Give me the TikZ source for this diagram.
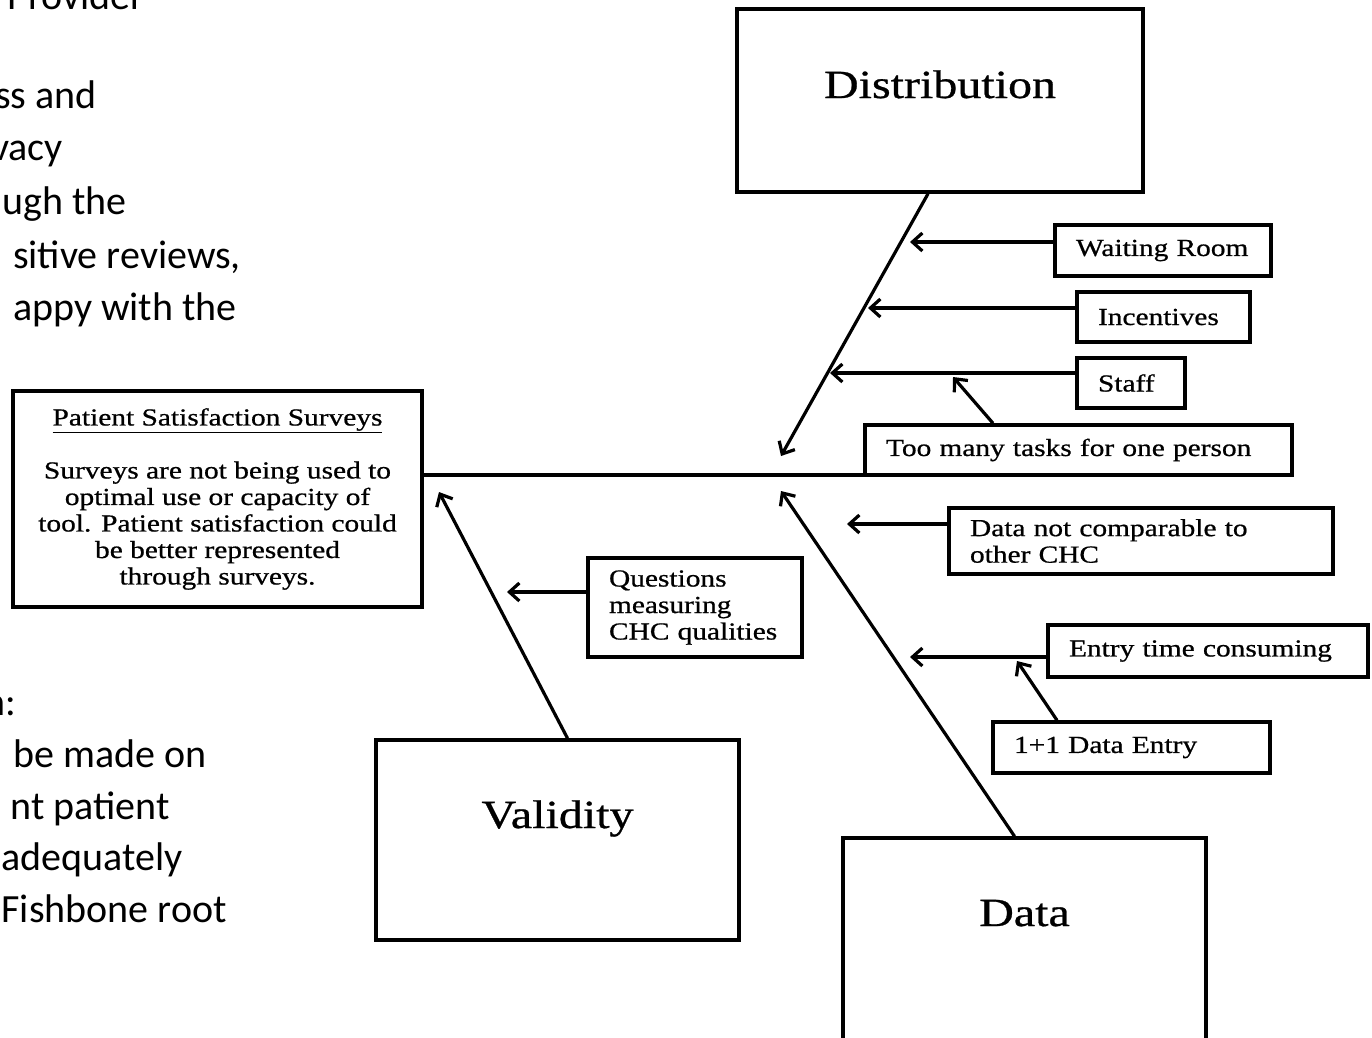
\documentclass[tikz,border=0pt]{standalone}
\usepackage{fontspec}
\setmainfont{Liberation Serif}[FakeStretch=1.2, UprightFeatures={FakeBold=0.7}]
\newfontfamily\slidefont{Carlito}
\usetikzlibrary{arrows.meta}
\tikzstyle{arrow} = [line width=3.2pt,->,>={Straight Barb[length=10pt,width=18pt]}]
\tikzstyle{spine} = [line width=3.2pt]
\tikzstyle{bigblock} = [draw, line width=3.5pt, rectangle, inner sep=0pt,
    font=\fontsize{40}{44}\selectfont, text height=27pt]
\tikzstyle{causeblock} = [draw, line width=3.5pt, rectangle, inner xsep=21pt,
    inner ysep=0pt, align=left, font=\fontsize{24.5}{26.5}\selectfont]
\tikzstyle{slidetext} = [anchor=base east, inner sep=0pt,
    font=\slidefont\fontsize{40}{52}\selectfont]

\begin{document}
\begin{tikzpicture}[x=1pt, y=-1pt]
     \useasboundingbox (0,0) rectangle (1372,1037);
     \clip (0,0) rectangle (1372,1037);
     \fill[white] (0,0) rectangle (1372,1037);

     % slide text cut off at the left
     \node [slidetext] (provider) at (145,9) {Provider};
     \node [slidetext] (access) at (97,108) {ss and};
     \node [slidetext] (privacy) at (63,160) {vacy};
     \node [slidetext] (through) at (127,214) {ugh the};
     \node [slidetext] (reviews) at (241,268) {sitive reviews,};
     \node [slidetext] (happy) at (237,320) {appy with the};
     \node [slidetext] (colon) at (16,715) {n:};
     \node [slidetext] (made) at (207,767) {be made on};
     \node [slidetext] (patient) at (170,819) {nt patient};
     \node [slidetext] (adequate) at (183,870) {adequately};
     \node [slidetext] (fishbone) at (227,922) {Fishbone root};

     % head of the fish
     \node [draw, line width=3.5pt, inner sep=0pt, minimum width=409pt, minimum height=216pt,
        align=center, font=\fontsize{24.5}{26.5}\selectfont] (problem) at (217.5,499)
        {\underline{Patient Satisfaction Surveys}\\[26.5pt]
         Surveys are not being used to\\ optimal use or capacity of\\
         tool. Patient satisfaction could\\ be better represented\\ through surveys.};
     \coordinate (spineend) at (1250,475);
     \draw [spine] (problem.east |- spineend) -- (spineend);

     % main categories
     \node [bigblock, minimum width=406pt, minimum height=183pt, text depth=32pt] (distribution) at (940,100.5) {Distribution};
     \node [bigblock, minimum width=363pt, minimum height=200pt, text depth=51pt] (validity) at (557.5,840) {Validity};
     \node [bigblock, minimum width=363pt, minimum height=202pt, text depth=53pt] (data) at (1024.5,939) {Data};

     \coordinate (disttip) at (781,456);
     \coordinate (datatip) at (781,491);
     \coordinate (validtip) at (439,492);
     \draw [arrow] ([xshift=-12pt]distribution.south) -- (disttip);
     \draw [arrow] ([xshift=-10pt]data.north) -- (datatip);
     \draw [arrow] ([xshift=10pt]validity.north) -- (validtip);

     % distribution causes
     \node [causeblock, text width=174pt, minimum height=51pt] (waiting) at (1163,250.5) {\mbox{Waiting Room}};
     \node [causeblock, text width=131pt, minimum height=50pt] (incentives) at (1163.5,317) {\mbox{Incentives}};
     \node [causeblock, text width=66pt, minimum height=50pt] (staff) at (1131,383) {\mbox{Staff}};
     \node [causeblock, text width=385pt, minimum height=50pt] (tasks) at (1078.5,450) {\mbox{Too many tasks for one person}};
     \coordinate (waittip) at (910,242);
     \coordinate (incenttip) at (868,308);
     \coordinate (stafftip) at (830,373);
     \coordinate (tasktip) at (953,377);
     \draw [arrow] (waiting.west |- waittip) -- (waittip);
     \draw [arrow] (incentives.west |- incenttip) -- (incenttip);
     \draw [arrow] (staff.west |- stafftip) -- (stafftip);
     \draw [arrow] ([xshift=-85.5pt]tasks.north) -- (tasktip);

     % data causes
     \node [causeblock, text width=342pt, minimum height=66pt] (compare) at (1141,541) {Data not comparable to\\other CHC};
     \node [causeblock, text width=278pt, minimum height=52pt] (entrytime) at (1208,651) {\mbox{Entry time consuming}};
     \node [causeblock, text width=235pt, minimum height=51pt] (oneone) at (1131.5,747.5) {\mbox{1+1 Data Entry}};
     \coordinate (comparetip) at (847,524);
     \coordinate (entrytip) at (910,657);
     \coordinate (onetip) at (1017,661);
     \draw [arrow] (compare.west |- comparetip) -- (comparetip);
     \draw [arrow] (entrytime.west |- entrytip) -- (entrytip);
     \draw [arrow] ([xshift=-74.5pt]oneone.north) -- (onetip);

     % validity cause
     \node [causeblock, text width=172pt, minimum height=99pt] (questions) at (695,607.5) {Questions\\measuring\\CHC qualities};
     \coordinate (questtip) at (507,592);
     \draw [arrow] (questions.west |- questtip) -- (questtip);
\end{tikzpicture}
\end{document}
